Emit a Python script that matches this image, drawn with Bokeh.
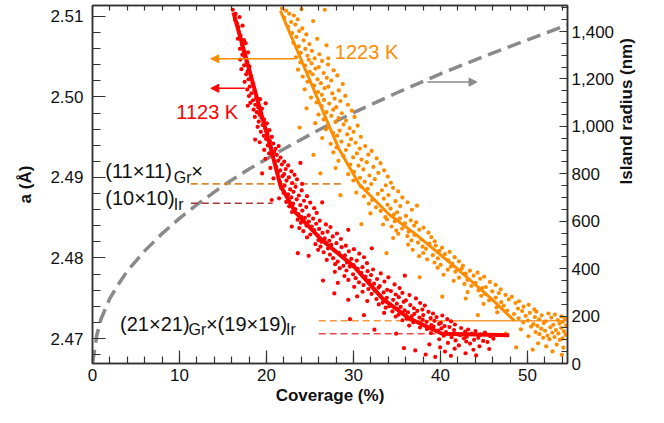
import math
from bokeh.plotting import figure
from bokeh.models import (Range1d, LinearAxis, FixedTicker, NumeralTickFormatter,
                          Label, Arrow, NormalHead)
from bokeh.embed import file_html
from bokeh.resources import INLINE

FONT = "Liberation Sans"
RED = "#ff0000"
ORANGE = "#ff8c00"
GRAY = "#8a8a8a"

# ---------------- data ----------------
x_ticks = [0, 10, 20, 30, 40, 50]
x_minor = [0, 2, 4, 6, 8, 10, 12, 14, 16, 18, 20, 22, 24, 26, 28, 30, 32, 34, 36, 38, 40, 42, 44, 46, 48, 50, 52, 54]
a_ticks = [2.47, 2.48, 2.49, 2.50, 2.51]
a_minor = [2.468, 2.470, 2.472, 2.474, 2.476, 2.478, 2.480, 2.482, 2.484, 2.486, 2.488, 2.490,
           2.492, 2.494, 2.496, 2.498, 2.500, 2.502, 2.504, 2.506, 2.508, 2.510]
r_ticks = [0, 200, 400, 600, 800, 1000, 1200, 1400]
r_minor = [0, 50, 100, 150, 200, 250, 300, 350, 400, 450, 500, 550, 600, 650, 700, 750, 800, 850,
           900, 950, 1000, 1050, 1100, 1150, 1200, 1250, 1300, 1350, 1400, 1450, 1500]

# island radius (right axis)
radius_cov = [0, 0.5, 1, 2, 3, 4, 6, 8, 10, 12, 15, 18, 22, 26, 30, 35, 40, 45, 50, 54.6]
radius_nm = [0, 120, 190, 275, 335, 390, 475, 548, 612, 670, 750, 820, 905, 985, 1058, 1142, 1222, 1295, 1365, 1428]

# fit lines
red_fit_cov = [16.2, 20.5, 21.6, 23.3, 26.4, 30.1, 33.4, 36.4, 40.2, 47.9]
red_fit_a = [2.5105, 2.4936, 2.4890, 2.4857, 2.4822, 2.4789, 2.4749, 2.4725, 2.4706, 2.4704]
orange_fit_cov = [21.6, 28.3, 30.7, 34.1, 37.1, 42.0, 45.9, 48.5]
orange_fit_a = [2.5107, 2.4936, 2.4891, 2.4854, 2.4830, 2.4786, 2.4749, 2.4722]

# commensurate-phase reference levels
level_a = [2.4892, 2.4868, 2.4722, 2.4706]
level_start = [11.3, 11.3, 26.0, 26.0]
level_end = [29.0, 20.7, 38.6, 40.2]
level_color = ["#d9862a", "#a83a3a", "#f39a3c", "#e84a4a"]
orange_level_tail = [38.6, 54.6]

# measured points, 1123 K (red)
red_points = [
    (16.12, 2.51082), (16.45, 2.51031), (16.38, 2.50957), (16.91, 2.50991), (16.60, 2.50912), (16.77, 2.50868),
    (17.25, 2.50884), (16.83, 2.50803), (17.02, 2.50761), (16.70, 2.50722), (17.41, 2.50705), (17.18, 2.50648),
    (17.60, 2.50667), (16.95, 2.50597), (17.37, 2.50571), (17.88, 2.50553), (17.22, 2.50522), (17.55, 2.50489),
    (16.98, 2.50463), (17.71, 2.50431), (17.43, 2.50392), (18.05, 2.50377), (17.12, 2.50344), (17.83, 2.50316),
    (17.66, 2.50281), (18.21, 2.50262), (17.94, 2.50219), (17.49, 2.50187), (18.40, 2.50172), (18.08, 2.50128),
    (17.79, 2.50093), (18.62, 2.50081), (18.27, 2.50044), (17.98, 2.50011), (18.81, 2.49987), (18.45, 2.49958),
    (19.26, 2.49972), (18.14, 2.49926), (18.71, 2.49903), (19.05, 2.49871), (18.52, 2.49842), (19.48, 2.49855),
    (18.89, 2.49811), (19.21, 2.49779), (17.85, 2.49890), (19.90, 2.49920),
    (18.66, 2.49752), (19.42, 2.49741), (19.73, 2.49718), (19.11, 2.49693), (20.05, 2.49672), (19.56, 2.49651),
    (18.98, 2.49628), (19.87, 2.49604), (20.33, 2.49587), (19.35, 2.49566), (20.12, 2.49541), (19.68, 2.49517),
    (20.61, 2.49503), (19.95, 2.49478), (20.40, 2.49452), (19.22, 2.49437), (20.78, 2.49421), (20.15, 2.49398),
    (20.52, 2.49371), (21.05, 2.49355), (19.74, 2.49342), (20.89, 2.49318), (21.40, 2.49390), (18.70, 2.49470),
    (20.30, 2.49298), (21.18, 2.49281), (20.71, 2.49262), (21.62, 2.49247), (19.88, 2.49231), (21.35, 2.49208),
    (22.04, 2.49196), (20.95, 2.49179), (21.77, 2.49161), (22.49, 2.49149), (21.12, 2.49132), (20.45, 2.49118),
    (22.21, 2.49104), (21.58, 2.49087), (22.86, 2.49075), (21.29, 2.49058), (22.03, 2.49041), (23.22, 2.49033),
    (21.84, 2.49016), (22.57, 2.49002), (20.80, 2.48988), (23.51, 2.48977), (22.30, 2.48961), (21.55, 2.48945),
    (22.95, 2.48931), (24.10, 2.48920), (19.50, 2.49050), (23.90, 2.49180),
    (22.08, 2.48897), (23.34, 2.48884), (21.71, 2.48866), (22.72, 2.48851), (24.05, 2.48839), (23.10, 2.48822),
    (21.96, 2.48807), (22.48, 2.48789), (23.72, 2.48776), (24.66, 2.48768), (22.85, 2.48752), (21.45, 2.48741),
    (23.47, 2.48728), (24.31, 2.48711), (22.27, 2.48696), (25.02, 2.48688), (23.06, 2.48674), (23.89, 2.48657),
    (22.61, 2.48641), (24.57, 2.48632), (25.48, 2.48618), (23.31, 2.48604), (24.12, 2.48589), (22.93, 2.48571),
    (25.77, 2.48559), (23.67, 2.48545), (24.86, 2.48528), (23.99, 2.48512), (20.60, 2.48720), (26.40, 2.48690),
    (24.41, 2.48497), (25.36, 2.48488), (23.58, 2.48476), (26.12, 2.48463), (24.87, 2.48452), (23.95, 2.48437),
    (25.71, 2.48425), (26.83, 2.48417), (24.60, 2.48403), (25.19, 2.48391), (27.35, 2.48384), (23.77, 2.48372),
    (26.05, 2.48361), (25.48, 2.48346), (24.23, 2.48333), (27.02, 2.48327), (26.44, 2.48311), (28.10, 2.48304),
    (25.03, 2.48292), (25.88, 2.48279), (27.61, 2.48268), (24.66, 2.48255), (26.69, 2.48243), (28.55, 2.48236),
    (25.97, 2.48222), (27.22, 2.48214), (26.31, 2.48201), (22.90, 2.48390), (29.40, 2.48350),
    (26.80, 2.48193), (28.04, 2.48184), (25.62, 2.48171), (27.45, 2.48162), (29.12, 2.48153), (26.21, 2.48141),
    (28.63, 2.48134), (27.08, 2.48119), (30.05, 2.48110), (25.94, 2.48102), (27.82, 2.48091), (29.47, 2.48083),
    (26.57, 2.48071), (28.31, 2.48063), (30.66, 2.48054), (27.29, 2.48043), (29.02, 2.48032), (24.85, 2.48027),
    (28.77, 2.48015), (31.21, 2.48009), (27.66, 2.47998), (29.74, 2.47989), (26.93, 2.47976), (30.38, 2.47968),
    (28.19, 2.47956), (29.26, 2.47944), (31.55, 2.47936), (27.90, 2.47923), (30.01, 2.47912), (28.85, 2.47903),
    (23.60, 2.48060), (32.10, 2.48120),
    (29.58, 2.47894), (31.03, 2.47886), (28.42, 2.47874), (30.47, 2.47866), (32.25, 2.47857), (29.19, 2.47845),
    (31.62, 2.47836), (27.86, 2.47828), (30.89, 2.47817), (33.14, 2.47809), (29.95, 2.47797), (32.02, 2.47788),
    (28.96, 2.47776), (31.38, 2.47768), (34.01, 2.47760), (30.25, 2.47749), (32.71, 2.47739), (29.41, 2.47728),
    (31.84, 2.47719), (33.56, 2.47707), (30.63, 2.47698), (28.20, 2.47690), (32.37, 2.47681), (34.72, 2.47672),
    (31.15, 2.47664), (33.02, 2.47651), (30.08, 2.47642), (32.89, 2.47633), (35.30, 2.47626), (31.71, 2.47614),
    (33.87, 2.47605), (26.50, 2.47720), (35.90, 2.47780),
    (32.46, 2.47597), (34.30, 2.47589), (31.04, 2.47581), (33.47, 2.47572), (35.62, 2.47566), (32.08, 2.47554),
    (34.85, 2.47547), (36.44, 2.47539), (33.09, 2.47530), (30.42, 2.47523), (35.21, 2.47514), (33.83, 2.47505),
    (37.18, 2.47498), (32.64, 2.47490), (34.56, 2.47480), (36.02, 2.47473), (31.58, 2.47465), (35.77, 2.47456),
    (33.35, 2.47447), (37.66, 2.47441), (34.98, 2.47433), (32.91, 2.47424), (36.53, 2.47416), (38.20, 2.47409),
    (34.12, 2.47401), (35.43, 2.47392), (33.70, 2.47383), (36.95, 2.47376), (35.06, 2.47367), (37.92, 2.47359),
    (29.40, 2.47480), (27.80, 2.47560),
    (35.88, 2.47349), (37.34, 2.47343), (34.47, 2.47337), (38.61, 2.47331), (36.26, 2.47324), (33.52, 2.47318),
    (39.14, 2.47311), (37.00, 2.47305), (35.19, 2.47298), (38.02, 2.47291), (40.21, 2.47286), (36.71, 2.47279),
    (34.85, 2.47273), (39.55, 2.47267), (37.58, 2.47260), (38.87, 2.47253), (36.09, 2.47247), (40.78, 2.47241),
    (37.96, 2.47234), (35.63, 2.47227), (39.31, 2.47220), (41.22, 2.47214), (38.40, 2.47207), (36.87, 2.47201),
    (40.04, 2.47194), (37.71, 2.47187), (39.83, 2.47181), (41.66, 2.47174), (38.95, 2.47168), (36.40, 2.47161),
    (40.47, 2.47155), (31.20, 2.47290), (29.60, 2.47240),
    (39.20, 2.47148), (41.03, 2.47142), (37.65, 2.47137), (42.37, 2.47131), (40.11, 2.47125), (38.44, 2.47118),
    (43.18, 2.47112), (41.56, 2.47105), (39.72, 2.47099), (44.02, 2.47092), (42.84, 2.47086), (40.63, 2.47080),
    (45.11, 2.47074), (38.91, 2.47068), (43.57, 2.47061), (41.90, 2.47055), (44.63, 2.47048), (42.25, 2.47041),
    (40.37, 2.47035), (45.72, 2.47029), (43.01, 2.47022), (41.28, 2.47016), (44.35, 2.47009), (42.69, 2.47003),
    (46.08, 2.46997), (39.85, 2.46991), (43.86, 2.46984), (41.74, 2.46977), (44.90, 2.46970), (42.96, 2.46963),
    (45.40, 2.46957), (34.90, 2.47060), (32.40, 2.47110),
    (40.85, 2.46946), (43.40, 2.46938), (38.72, 2.46927), (42.11, 2.46915), (44.48, 2.46903), (39.96, 2.46889),
    (41.63, 2.46874), (43.79, 2.46861), (37.10, 2.46852), (40.52, 2.46838), (42.88, 2.46817), (38.30, 2.46801),
    (41.20, 2.46785), (44.10, 2.46790), (39.40, 2.46772), (35.80, 2.46880), (45.60, 2.46870),
]

# measured points, 1223 K (orange)
orange_points = [
    (21.78, 2.51098), (22.25, 2.51071), (24.02, 2.51089), (26.70, 2.51082), (22.61, 2.51034), (23.15, 2.51011),
    (22.04, 2.50986), (23.58, 2.50962), (22.83, 2.50930), (25.36, 2.50941), (23.31, 2.50898), (22.47, 2.50873),
    (24.12, 2.50851), (23.76, 2.50818), (22.95, 2.50793), (24.58, 2.50776), (23.44, 2.50745), (25.83, 2.50721),
    (24.27, 2.50703), (23.09, 2.50672), (24.93, 2.50655), (23.71, 2.50627), (26.90, 2.50640), (24.46, 2.50596),
    (25.22, 2.50571), (23.95, 2.50548), (26.08, 2.50530), (24.71, 2.50511), (27.10, 2.50480),
    (23.38, 2.50492), (25.54, 2.50478), (24.86, 2.50461), (26.39, 2.50447), (23.90, 2.50430), (25.17, 2.50416),
    (27.08, 2.50402), (24.44, 2.50389), (26.01, 2.50371), (25.63, 2.50352), (23.62, 2.50338), (27.72, 2.50330),
    (24.98, 2.50312), (26.57, 2.50296), (25.31, 2.50281), (28.14, 2.50267), (24.17, 2.50253), (26.93, 2.50237),
    (25.86, 2.50219), (27.44, 2.50204), (24.71, 2.50188), (26.25, 2.50171), (28.77, 2.50159), (25.49, 2.50142),
    (27.11, 2.50127), (26.68, 2.50108), (24.39, 2.50094), (28.31, 2.50080), (25.92, 2.50061), (27.56, 2.50043),
    (26.36, 2.50026), (29.05, 2.50012),
    (25.12, 2.49992), (27.83, 2.49979), (26.61, 2.49962), (28.49, 2.49948), (25.76, 2.49932), (27.21, 2.49917),
    (29.36, 2.49903), (26.34, 2.49887), (28.02, 2.49872), (24.60, 2.49858), (27.67, 2.49841), (29.81, 2.49829),
    (26.90, 2.49812), (28.66, 2.49797), (25.98, 2.49781), (27.45, 2.49765), (30.12, 2.49751), (28.28, 2.49736),
    (26.57, 2.49720), (29.14, 2.49706), (27.93, 2.49689), (25.60, 2.49674), (28.86, 2.49659), (30.48, 2.49643),
    (27.12, 2.49628), (29.55, 2.49612), (26.83, 2.49597), (28.40, 2.49581), (30.01, 2.49566), (27.66, 2.49551),
    (29.28, 2.49535), (28.12, 2.49519), (30.85, 2.49504), (26.40, 2.49490), (29.72, 2.49475), (23.80, 2.49620),
    (28.61, 2.49446), (30.24, 2.49431), (27.38, 2.49418), (29.47, 2.49402), (31.35, 2.49389), (28.06, 2.49372),
    (30.72, 2.49358), (29.13, 2.49341), (32.08, 2.49329), (27.69, 2.49312), (30.39, 2.49298), (31.70, 2.49283),
    (28.84, 2.49267), (29.96, 2.49250), (32.66, 2.49238), (30.93, 2.49222), (28.27, 2.49207), (31.52, 2.49190),
    (33.10, 2.49177), (29.63, 2.49160), (30.58, 2.49146), (32.29, 2.49131), (27.95, 2.49117), (31.14, 2.49100),
    (33.52, 2.49088), (30.07, 2.49071), (32.86, 2.49056), (29.39, 2.49041), (31.83, 2.49024), (33.94, 2.49011),
    (30.76, 2.48995), (32.45, 2.48979), (29.98, 2.48962), (31.29, 2.48947), (34.30, 2.48934), (25.40, 2.49280),
    (26.20, 2.49050),
    (32.04, 2.48918), (33.71, 2.48903), (30.88, 2.48887), (34.55, 2.48871), (31.63, 2.48857), (33.27, 2.48841),
    (35.14, 2.48827), (30.32, 2.48812), (32.79, 2.48796), (34.02, 2.48781), (31.21, 2.48766), (35.62, 2.48752),
    (33.48, 2.48737), (32.15, 2.48720), (34.83, 2.48705), (36.20, 2.48692), (31.77, 2.48676), (33.91, 2.48660),
    (35.37, 2.48645), (32.60, 2.48629), (34.26, 2.48613), (36.71, 2.48599), (33.12, 2.48584), (35.01, 2.48568),
    (31.94, 2.48553), (34.65, 2.48538), (36.03, 2.48522), (33.66, 2.48507), (28.50, 2.48780), (37.30, 2.48650),
    (35.33, 2.48493), (33.86, 2.48480), (36.58, 2.48468), (34.74, 2.48455), (37.21, 2.48443), (35.92, 2.48429),
    (33.40, 2.48416), (36.97, 2.48403), (34.38, 2.48391), (38.05, 2.48378), (35.60, 2.48365), (37.56, 2.48351),
    (34.92, 2.48339), (36.34, 2.48326), (38.62, 2.48314), (35.15, 2.48300), (37.02, 2.48287), (36.19, 2.48272),
    (38.95, 2.48259), (34.56, 2.48247), (37.80, 2.48233), (36.66, 2.48219), (39.33, 2.48207), (30.90, 2.48420),
    (37.41, 2.48192), (38.73, 2.48180), (36.28, 2.48167), (39.46, 2.48154), (37.95, 2.48141), (40.18, 2.48128),
    (38.34, 2.48114), (36.81, 2.48102), (39.87, 2.48089), (41.04, 2.48075), (38.02, 2.48062), (40.51, 2.48049),
    (39.12, 2.48035), (37.54, 2.48023), (41.63, 2.48010), (39.70, 2.47996), (38.47, 2.47983), (40.89, 2.47970),
    (42.12, 2.47957), (39.31, 2.47944), (41.36, 2.47930), (40.02, 2.47916), (42.58, 2.47904), (33.80, 2.48060),
    (41.20, 2.47893), (39.67, 2.47880), (42.45, 2.47868), (40.84, 2.47855), (43.38, 2.47843), (41.71, 2.47830),
    (44.26, 2.47818), (42.90, 2.47805), (40.35, 2.47792), (43.81, 2.47780), (45.02, 2.47767), (42.13, 2.47755),
    (44.57, 2.47742), (43.09, 2.47729), (41.52, 2.47716), (45.68, 2.47703), (44.03, 2.47691), (42.76, 2.47678),
    (46.34, 2.47665), (43.55, 2.47652), (45.21, 2.47640), (44.80, 2.47626), (46.92, 2.47612), (37.60, 2.47760),
    (44.37, 2.47597), (45.95, 2.47586), (43.12, 2.47575), (46.71, 2.47564), (45.13, 2.47553), (47.48, 2.47541),
    (44.68, 2.47530), (48.20, 2.47519), (46.36, 2.47508), (42.90, 2.47497), (47.85, 2.47486), (45.59, 2.47474),
    (49.03, 2.47463), (46.98, 2.47452), (48.62, 2.47441), (44.95, 2.47430), (50.14, 2.47418), (47.27, 2.47407),
    (49.55, 2.47396), (46.44, 2.47385), (48.91, 2.47373), (50.78, 2.47362), (40.20, 2.47520),
    (47.66, 2.47348), (49.38, 2.47341), (51.02, 2.47334), (46.53, 2.47326), (50.27, 2.47319), (52.41, 2.47311),
    (48.45, 2.47304), (53.16, 2.47297), (51.63, 2.47289), (49.79, 2.47282), (53.92, 2.47275), (50.86, 2.47267),
    (52.74, 2.47260), (48.98, 2.47252), (54.31, 2.47245), (51.34, 2.47238), (53.48, 2.47230), (50.05, 2.47223),
    (52.09, 2.47215), (54.05, 2.47208), (49.51, 2.47201), (51.87, 2.47193), (53.69, 2.47186), (50.68, 2.47178),
    (52.97, 2.47171), (54.44, 2.47164), (51.15, 2.47157), (44.30, 2.47290),
    (50.42, 2.47147), (52.63, 2.47139), (53.88, 2.47131), (51.58, 2.47122), (49.24, 2.47114), (53.27, 2.47106),
    (52.01, 2.47097), (54.19, 2.47089), (50.93, 2.47080), (52.86, 2.47072), (53.55, 2.47063), (51.37, 2.47054),
    (54.38, 2.47046), (52.30, 2.47037), (50.11, 2.47028), (53.11, 2.47019), (51.80, 2.47010), (54.02, 2.47001),
    (52.52, 2.46992), (53.70, 2.46983), (47.50, 2.47060),
    (51.22, 2.46941), (53.36, 2.46925), (52.15, 2.46903), (54.12, 2.46887), (50.60, 2.46862), (52.88, 2.46840),
    (53.95, 2.46798), (48.70, 2.46890),
]

red_cov = [pt[0] for pt in red_points]
red_a = [pt[1] for pt in red_points]
orange_cov = [pt[0] for pt in orange_points]
orange_a = [pt[1] for pt in orange_points]

# ---------------- figure ----------------
p = figure(width=648, height=407, x_range=Range1d(0, 54.6), y_range=Range1d(2.4669, 2.51135),
           output_backend="svg", toolbar_location=None,
           min_border_left=92, min_border_right=78, min_border_top=5, min_border_bottom=41)
p.extra_y_ranges = {"radius": Range1d(0, 1510)}
p.xgrid.visible = False
p.ygrid.visible = False
p.outline_line_color = "#333333"
p.outline_line_width = 1.5
p.background_fill_color = "white"
p.border_fill_color = "white"


def style_axis(ax, tick_in, minor_in, label_size="17px"):
    ax.axis_line_color = "#333333"
    ax.axis_line_width = 1.5
    ax.major_tick_line_color = "#333333"
    ax.minor_tick_line_color = "#333333"
    ax.major_tick_line_width = 1.2
    ax.minor_tick_line_width = 1.2
    ax.major_tick_in = tick_in
    ax.major_tick_out = 0
    ax.minor_tick_in = minor_in
    ax.minor_tick_out = 0
    ax.major_label_text_font = FONT
    ax.major_label_text_font_size = label_size
    ax.major_label_text_color = "#111111"
    ax.axis_label_text_font = FONT
    ax.axis_label_text_font_size = "17px"
    ax.axis_label_text_font_style = "bold"
    ax.axis_label_text_color = "#111111"


xax = p.xaxis[0]
xax.ticker = FixedTicker(ticks=x_ticks, minor_ticks=x_minor)
style_axis(xax, 13, 7)
xax.axis_label = "Coverage (%)"
xax.major_label_standoff = 5
xax.axis_label_standoff = 2

yax = p.yaxis[0]
yax.ticker = FixedTicker(ticks=a_ticks, minor_ticks=a_minor)
yax.formatter = NumeralTickFormatter(format="0.00")
style_axis(yax, 13, 8)
yax.axis_label = "a (Å)"
yax.major_label_standoff = 9
yax.axis_label_standoff = 12

rax = LinearAxis(y_range_name="radius", ticker=FixedTicker(ticks=r_ticks, minor_ticks=r_minor),
                 formatter=NumeralTickFormatter(format="0,0"))
style_axis(rax, 8, 6)
rax.axis_label = "Island radius (nm)"
rax.major_label_standoff = 4
rax.axis_label_standoff = 9
if "axis_label_orientation" in rax.properties():
    rax.axis_label_orientation = math.pi / 2
p.add_layout(rax, "right")

tax = LinearAxis(ticker=FixedTicker(ticks=x_minor, minor_ticks=[]))
style_axis(tax, 5, 0, label_size="1px")
tax.major_label_overrides = {t: "" for t in x_minor}
tax.major_label_standoff = 0
p.add_layout(tax, "above")

# ---------------- marks ----------------
p.line(radius_cov, radius_nm, y_range_name="radius", line_color=GRAY, line_width=3.5,
       line_dash="14 7")

for a_lvl, x0, x1, c in zip(level_a, level_start, level_end, level_color):
    p.line([x0, x1], [a_lvl, a_lvl], line_color=c, line_width=1.6, line_dash="7 4")
p.line(orange_level_tail, [level_a[2], level_a[2]], line_color="#f39a3c", line_width=1.4)

p.scatter(orange_cov, orange_a, size=4.2, fill_color=ORANGE, line_color=None)
p.line(orange_fit_cov, orange_fit_a, line_color=ORANGE, line_width=3)
p.scatter(red_cov, red_a, size=4.2, fill_color=RED, line_color=None)
p.line(red_fit_cov, red_fit_a, line_color=RED, line_width=4)

# arrows
p.add_layout(Arrow(end=NormalHead(size=8, fill_color=ORANGE, line_color=ORANGE),
                   x_start=23.2, y_start=2.50474, x_end=13.6, y_end=2.50474,
                   line_color=ORANGE, line_width=1.5))
p.add_layout(Arrow(end=NormalHead(size=8, fill_color=RED, line_color=RED),
                   x_start=17.5, y_start=2.50107, x_end=13.6, y_end=2.50107,
                   line_color=RED, line_width=1.5))
p.add_layout(Arrow(end=NormalHead(size=8, fill_color=GRAY, line_color=GRAY),
                   x_start=38.5, y_start=1187, x_end=44.2, y_end=1187, y_range_name="radius",
                   line_color=GRAY, line_width=1.5))


def label(x, y, text, size, color="#111111"):
    p.add_layout(Label(x=x, y=y, text=text, text_font=FONT, text_font_size=size,
                       text_color=color, text_align="left", text_baseline="middle"))


label(27.86, 2.50560, "1223 K", "20px", ORANGE)
label(9.63, 2.49814, "1123 K", "20px", RED)

label(1.47, 2.49080, "(11×11)", "20px")
label(9.34, 2.48994, "Gr", "16px")
label(11.36, 2.49080, " ×", "20px")
label(1.47, 2.48749, "(10×10)", "20px")
label(9.34, 2.48664, "Ir", "16px")

label(3.17, 2.47183, "(21×21)", "20px")
label(11.04, 2.47110, "Gr", "16px")
label(13.06, 2.47183, "×", "20px")
label(14.38, 2.47183, "(19×19)", "20px")
label(22.25, 2.47110, "Ir", "16px")

open("out.html", "w").write(file_html(p, INLINE))
